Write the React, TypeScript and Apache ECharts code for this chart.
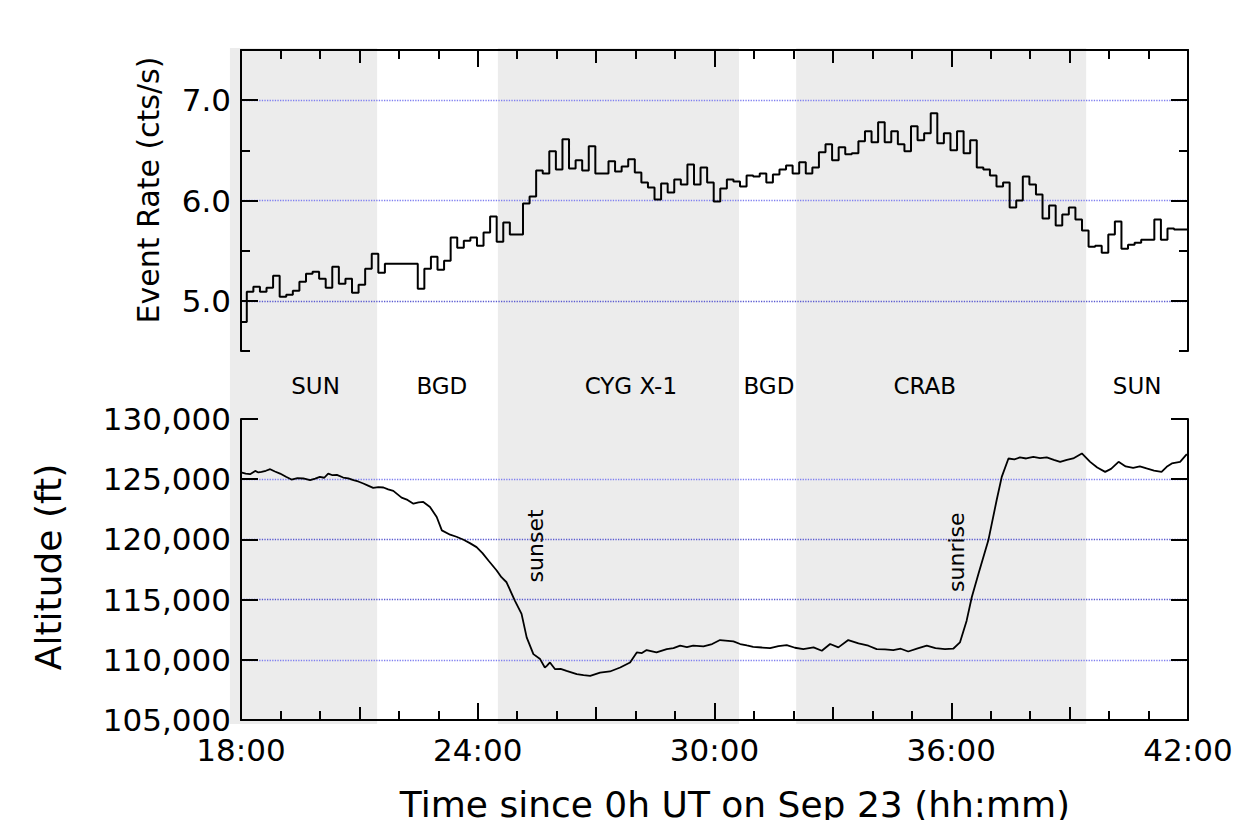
import React, { useEffect, useRef } from "react";
import * as echarts from "echarts";

// ---------- DATA ----------
// Event rate histogram: 10-minute bins (hours since 0h UT Sep 23)
const RATE_BIN_START = 17.98;
const RATE_BIN_WIDTH = 1 / 6;
const RATE = [
  4.79, 5.09, 5.14, 5.09, 5.13, 5.25, 5.04, 5.06, 5.10, 5.19,
  5.27, 5.29, 5.22, 5.13, 5.34, 5.17, 5.22, 5.08, 5.16, 5.32,
  5.47, 5.28, 5.37, 5.37, 5.37, 5.37, 5.37, 5.12, 5.32, 5.44,
  5.31, 5.40, 5.63, 5.53, 5.60, 5.63, 5.55, 5.68, 5.84, 5.59,
  5.78, 5.66, 5.66, 5.97, 6.04, 6.30, 6.27, 6.49, 6.31, 6.61,
  6.32, 6.40, 6.30, 6.54, 6.27, 6.27, 6.39, 6.29, 6.34, 6.41,
  6.28, 6.18, 6.13, 6.01, 6.17, 6.08, 6.21, 6.16, 6.36, 6.16,
  6.33, 6.18, 5.99, 6.12, 6.21, 6.19, 6.14, 6.25, 6.24, 6.27,
  6.18, 6.26, 6.31, 6.35, 6.27, 6.38, 6.27, 6.33, 6.48, 6.56,
  6.40, 6.53, 6.46, 6.47, 6.59, 6.69, 6.58, 6.78, 6.58, 6.69,
  6.56, 6.49, 6.74, 6.60, 6.67, 6.87, 6.57, 6.67, 6.50, 6.69,
  6.47, 6.60, 6.33, 6.31, 6.25, 6.14, 6.18, 5.93, 6.00, 6.24,
  6.16, 6.06, 5.82, 5.95, 5.75, 5.86, 5.93, 5.81, 5.70, 5.54,
  5.55, 5.48, 5.66, 5.79, 5.52, 5.56, 5.58, 5.61, 5.61, 5.81,
  5.61, 5.72, 5.71, 5.71,
];

// Altitude (ft) vs time (hours)
const ALT_TIME = [
  18.0, 18.12, 18.23, 18.36, 18.44, 18.52, 18.63, 18.74, 18.86, 18.99,
  19.14, 19.28, 19.43, 19.58, 19.75, 19.88, 20.0, 20.11, 20.21, 20.32,
  20.43, 20.59, 20.72, 20.85, 20.97, 21.1, 21.22, 21.35, 21.48, 21.61,
  21.73, 21.86, 22.07, 22.22, 22.37, 22.5, 22.62, 22.79, 22.96, 23.09,
  23.3, 23.46, 23.64, 23.8, 23.97, 24.12, 24.27, 24.48, 24.6, 24.73,
  24.94, 25.11, 25.24, 25.41, 25.58, 25.7, 25.75, 25.83, 25.96, 26.1,
  26.25, 26.51, 26.68, 26.85, 27.1, 27.35, 27.61, 27.86, 28.03, 28.16,
  28.28, 28.53, 28.79, 28.96, 29.13, 29.3, 29.46, 29.72, 29.94, 30.14,
  30.48, 30.65, 30.82, 30.98, 31.2, 31.41, 31.62, 31.83, 32.04, 32.25,
  32.51, 32.72, 32.93, 33.14, 33.39, 33.65, 33.9, 34.11, 34.32, 34.53,
  34.72, 34.91, 35.15, 35.38, 35.6, 35.84, 36.05, 36.22, 36.39, 36.52,
  36.69, 36.94, 37.15, 37.28, 37.45, 37.6, 37.74, 37.9, 38.08, 38.25,
  38.42, 38.6, 38.76, 38.93, 39.09, 39.31, 39.52, 39.7, 39.9, 40.05,
  40.24, 40.42, 40.61, 40.78, 40.95, 41.14, 41.33, 41.46, 41.59, 41.8,
  41.97,
];
const ALT_FT = [
  125560, 125460, 125420, 125690, 125560, 125610, 125700, 125830, 125640, 125470,
  125200, 124970, 125090, 125060, 124920, 125050, 125190, 125120, 125470, 125330,
  125360, 125140, 125060, 124920, 124810, 124640, 124470, 124280, 124350, 124310,
  124150, 124030, 123470, 123280, 122970, 123080, 123110, 122690, 121860, 120750,
  120390, 120220, 119970, 119690, 119360, 118860, 118250, 117420, 116860, 116440,
  114920, 113810, 111860, 110470, 110060, 109360, 109500, 109780, 109220, 109250,
  109080, 108810, 108720, 108670, 108940, 109030, 109360, 109780, 110610, 110560,
  110810, 110610, 110890, 110970, 111170, 111060, 111170, 111110, 111310, 111640,
  111530, 111310, 111190, 111080, 111020, 110970, 111140, 111220, 111000, 110890,
  111030, 110750, 111310, 111030, 111640, 111370, 111170, 110890, 110860, 110810,
  110920, 110690, 110940, 111170, 110970, 110890, 110920, 111440, 113250, 115190,
  117140, 119920, 123250, 125190, 126720, 126640, 126810, 126720, 126860, 126750,
  126810, 126610, 126440, 126610, 126720, 127140, 126440, 125970, 125610, 125860,
  126440, 126060, 125940, 126060, 125890, 125720, 125610, 126030, 126310, 126440,
  127080,
];

// Observation segments (hours) and their labels
const SHADE_START = [17.72, 24.51, 32.07];
const SHADE_END = [21.45, 30.62, 39.42];
const TARGET_NAMES = ["SUN", "BGD", "CYG X-1", "BGD", "CRAB", "SUN"];
const TARGET_TIME = [19.89, 23.09, 27.88, 31.38, 35.33, 40.71];

// Annotations on altitude curve
const ANNOT_NAMES = ["sunset", "sunrise"];
const ANNOT_TIME = [25.47, 36.13];
const ANNOT_ALT = [119460, 118940];

// Axis ticks
const RATE_MAJOR = [5, 6, 7];
const RATE_MINOR = [4.5, 5.5, 6.5];
const RATE_GRID_COLORS = ["rgba(0,0,0,0)", "#5a5ad0", "rgba(0,0,0,0)", "#7f7ff0", "rgba(0,0,0,0)", "#7f7ff0", "rgba(0,0,0,0)"];
const ALT_GRID_COLORS = ["rgba(0,0,0,0)", "#7f7ff0", "#5a5ad0", "#5a5ad0", "#7f7ff0", "rgba(0,0,0,0)"];

const FONT = '"DejaVu Sans", Verdana, sans-serif';
const INK = "#000";

export default function App() {
  const ref = useRef<HTMLDivElement>(null);

  useEffect(() => {
    if (!ref.current) return;
    const chart = echarts.init(ref.current, undefined, { renderer: "svg" });

    const rateData: number[][] = RATE.map((v, i) => [RATE_BIN_START + i * RATE_BIN_WIDTH, v]);
    rateData.push([RATE_BIN_START + RATE.length * RATE_BIN_WIDTH, RATE[RATE.length - 1]]);
    const altData = ALT_TIME.map((t, i) => [t, ALT_FT[i]]);
    const shadeData = SHADE_START.map((s, i) => [s, SHADE_END[i]]);
    const targetData = TARGET_NAMES.map((n, i) => ({ name: n, value: [TARGET_TIME[i], 0.5] }));
    const annotData = ANNOT_NAMES.map((n, i) => ({ name: n, coord: [ANNOT_TIME[i], ANNOT_ALT[i]] }));

    const axLine = { show: true, onZero: false, lineStyle: { color: "#000", width: 2 } };
    const noLine = { show: false, onZero: false };
    const tick = (len: number, extra: any = {}) => ({
      show: true, inside: true, length: len, lineStyle: { color: "#000", width: 2 }, ...extra,
    });
    const hourAxis = (grid: number, pos: string, interval: number, len: number, line: boolean, labels: boolean) => ({
      type: "value", gridIndex: grid, position: pos, min: 18, max: 42, interval,
      axisLine: line ? axLine : noLine,
      axisTick: tick(len),
      axisLabel: labels
        ? { show: true, formatter: (v: number) => `${v}:00`, fontSize: 31, color: INK, fontFamily: FONT, margin: 14 }
        : { show: false },
      splitLine: { show: false },
    });

    const option: any = {
      animation: false,
      backgroundColor: "#fff",
      textStyle: { fontFamily: FONT },
      grid: [
        { left: 241, right: 50, top: 50, height: 301 },
        { left: 241, right: 50, top: 419, height: 301 },
        { left: 230, right: 50, top: 48, height: 676 },
      ],
      xAxis: [
        hourAxis(0, "top", 1, 9, true, false),
        hourAxis(0, "top", 3, 13, false, false),
        hourAxis(0, "top", 6, 17, false, false),
        hourAxis(1, "bottom", 1, 9, true, false),
        hourAxis(1, "bottom", 3, 13, false, false),
        hourAxis(1, "bottom", 6, 17, false, true),
        {
          type: "value", gridIndex: 2, min: 17.7212, max: 42, show: false,
          axisLine: noLine, axisTick: { show: false }, axisLabel: { show: false }, splitLine: { show: false },
        },
      ],
      yAxis: [
        {
          type: "value", gridIndex: 0, position: "left", min: 4.5, max: 7.5, interval: 0.5,
          axisLine: axLine,
          axisTick: tick(17, { customValues: RATE_MAJOR }),
          axisLabel: {
            show: true, customValues: RATE_MAJOR, formatter: (v: number) => v.toFixed(1),
            fontSize: 31, color: INK, fontFamily: FONT, margin: 10,
          },
          splitLine: { show: false },
        },
        {
          type: "value", gridIndex: 0, position: "left", min: 4.5, max: 7.5, interval: 0.5,
          axisLine: noLine, axisTick: tick(9, { customValues: RATE_MINOR }),
          axisLabel: { show: false }, splitLine: { show: false },
        },
        {
          type: "value", gridIndex: 0, position: "left", min: 4.5, max: 7.5, interval: 0.5,
          axisLine: noLine, axisTick: { show: false }, axisLabel: { show: false },
          splitLine: { show: true, lineStyle: { color: RATE_GRID_COLORS, type: "dotted", width: 1.3 } },
        },
        {
          type: "value", gridIndex: 0, position: "right", min: 4.5, max: 7.5, interval: 0.5,
          axisLine: axLine, axisTick: tick(17, { customValues: RATE_MAJOR }),
          axisLabel: { show: false }, splitLine: { show: false },
        },
        {
          type: "value", gridIndex: 0, position: "right", min: 4.5, max: 7.5, interval: 0.5,
          axisLine: noLine, axisTick: tick(9, { customValues: RATE_MINOR }),
          axisLabel: { show: false }, splitLine: { show: false },
        },
        {
          type: "value", gridIndex: 1, position: "left", min: 105000, max: 130000, interval: 5000,
          axisLine: axLine, axisTick: tick(17),
          axisLabel: {
            show: true, formatter: (v: number) => v.toLocaleString("en-US"),
            fontSize: 31, color: INK, fontFamily: FONT, margin: 10,
          },
          splitLine: { show: true, lineStyle: { color: ALT_GRID_COLORS, type: "dotted", width: 1.3 } },
        },
        {
          type: "value", gridIndex: 1, position: "right", min: 105000, max: 130000, interval: 5000,
          axisLine: axLine, axisTick: tick(17), axisLabel: { show: false }, splitLine: { show: false },
        },
        {
          type: "value", gridIndex: 2, min: 0, max: 1, show: false,
          axisLine: noLine, axisTick: { show: false }, axisLabel: { show: false }, splitLine: { show: false },
        },
      ],
      series: [
        {
          type: "custom",
          name: "segments",
          xAxisIndex: 6,
          yAxisIndex: 7,
          z: -5,
          silent: true,
          encode: { x: [0, 1] },
          data: shadeData,
          renderItem: (_p: any, api: any) => {
            const a = api.coord([api.value(0), 1]);
            const b = api.coord([api.value(1), 0]);
            return {
              type: "rect",
              shape: { x: a[0], y: a[1], width: b[0] - a[0], height: b[1] - a[1] },
              style: { fill: "#ececec" },
            };
          },
        },
        {
          type: "scatter",
          name: "targets",
          xAxisIndex: 6,
          yAxisIndex: 7,
          symbolSize: 1,
          silent: true,
          itemStyle: { color: "#ececec", opacity: 1 },
          label: {
            show: true, position: "inside", formatter: "{b}", fontSize: 23,
            color: "#000", opacity: 1, fontFamily: FONT, textBorderWidth: 0,
          },
          data: targetData,
        },
        {
          type: "line",
          name: "Event Rate",
          xAxisIndex: 0,
          yAxisIndex: 0,
          step: "end",
          showSymbol: false,
          silent: true,
          lineStyle: { color: "#000", width: 2 },
          data: rateData,
        },
        {
          type: "line",
          name: "Altitude",
          xAxisIndex: 3,
          yAxisIndex: 5,
          showSymbol: false,
          silent: true,
          lineStyle: { color: "#000", width: 1.8 },
          data: altData,
          markPoint: {
            symbol: "circle",
            symbolSize: 0,
            silent: true,
            itemStyle: { color: "rgba(0,0,0,0)" },
            label: {
              show: true, position: "inside", formatter: "{b}", rotate: 90,
              fontSize: 22, color: "#000", opacity: 1, fontFamily: FONT, textBorderWidth: 0,
            },
            data: annotData,
          },
        },
      ],
      graphic: [
        {
          type: "text", x: 148, y: 190, rotation: Math.PI / 2,
          style: { text: "Event Rate (cts/s)", fontSize: 30, fontFamily: FONT, fill: INK, align: "center", verticalAlign: "middle" },
        },
        {
          type: "text", x: 48, y: 567, rotation: Math.PI / 2,
          style: { text: "Altitude (ft)", fontSize: 36, fontFamily: FONT, fill: INK, align: "center", verticalAlign: "middle" },
        },
        {
          type: "text", x: 735, y: 804,
          style: { text: "Time since 0h UT on Sep 23 (hh:mm)", fontSize: 36, fontFamily: FONT, fill: INK, align: "center", verticalAlign: "middle" },
        },
      ],
    };

    chart.setOption(option);
    return () => chart.dispose();
  }, []);

  return (
    <div
      ref={ref}
      style={{ position: "fixed", left: 0, top: 0, width: 1238, height: 820, background: "#fff" }}
    />
  );
}
